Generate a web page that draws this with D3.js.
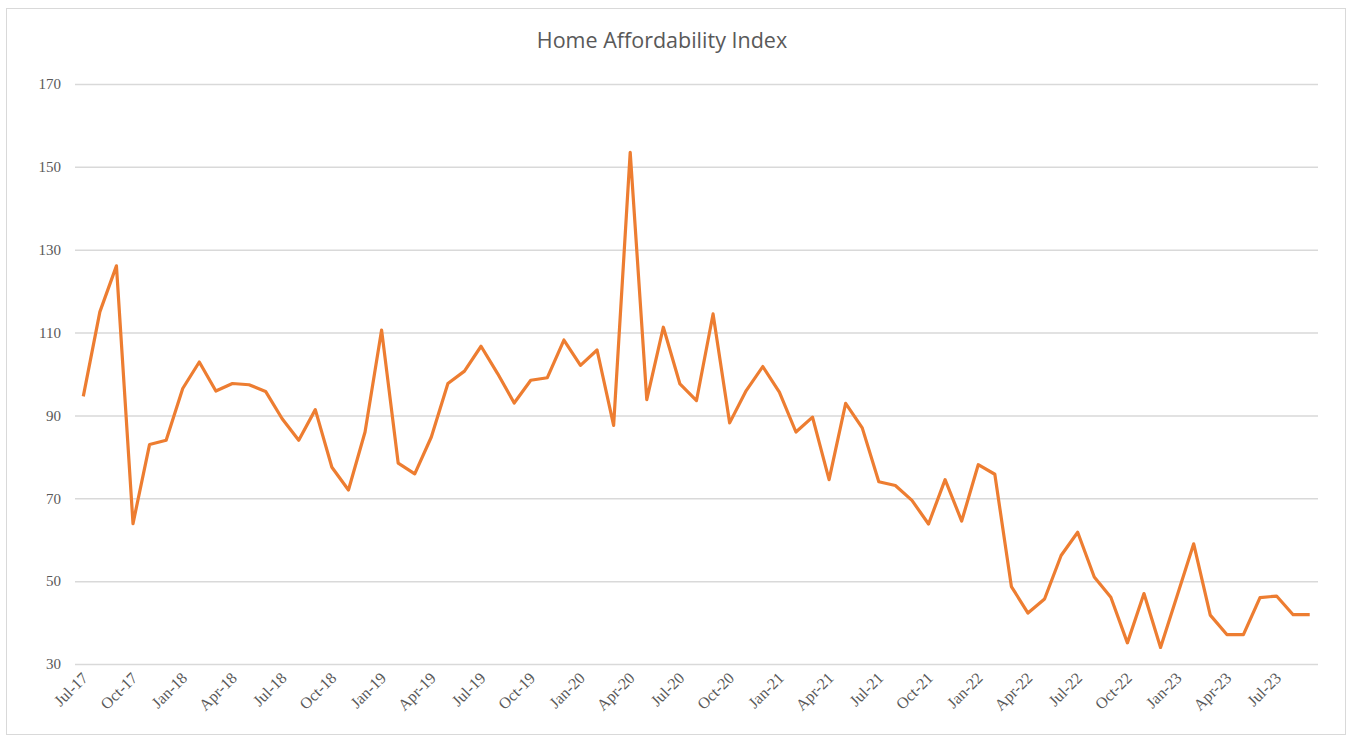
<!DOCTYPE html>
<html>
<head>
<meta charset="utf-8">
<script src="https://cdn.jsdelivr.net/npm/d3@7"></script>
<style>
  body { margin: 0; background: #fff; }
  .tick text { fill: #595959; font-family: "Liberation Serif", serif; font-size: 15px; }
</style>
</head>
<body>
<div id="chart"></div>
<script>
// monthly, Jul-17 .. Sep-23
var monthNames = ["Jan","Feb","Mar","Apr","May","Jun","Jul","Aug","Sep","Oct","Nov","Dec"];
var months = [];
for (var i = 0; i < 75; i++) {
  var m = (6 + i) % 12, yr = 17 + Math.floor((6 + i) / 12);
  months.push(monthNames[m] + "-" + yr);
}

var values = [
  94.6, 115, 126.1, 63.9, 83, 84,            // Jul-17 .. Dec-17
  96.5, 102.9, 95.9, 97.7, 97.4, 95.8,        // 2018 H1
  89.2, 84, 91.4, 77.5, 72, 86,              // 2018 H2
  110.6, 78.5, 75.9, 84.8, 97.7, 100.7,      // 2019 H1
  106.7, 100.1, 93, 98.5, 99.1, 108.2,       // 2019 H2
  102.1, 105.8, 87.6, 153.5, 93.8, 111.3,    // 2020 H1
  97.6, 93.6, 114.5, 88.2, 96, 101.8,        // 2020 H2
  95.6, 86, 89.6, 74.5, 92.9, 87,            // 2021 H1
  74, 73.1, 69.5, 63.8, 74.5, 64.5,          // 2021 H2
  78.1, 75.8, 48.7, 42.3, 45.7, 56.2,        // 2022 H1
  61.8, 51, 46.1, 35.1, 47, 34,              // 2022 H2
  46.5, 59, 41.8, 37.1, 37.1, 46,            // 2023 H1
  46.4, 41.9, 41.9                           // Jul-23 .. Sep-23
];

var yTicks = [30, 50, 70, 90, 110, 130, 150, 170];

var W = 1351, H = 737;
var margin = {top: 84, right: 33, bottom: 73, left: 75},
  width = W - margin.left - margin.right,
  height = H - margin.top - margin.bottom;

var svg = d3.select("#chart").append("svg")
  .attr("width", W)
  .attr("height", H);

// chart frame
svg.append("rect")
  .attr("x", 6.5).attr("y", 8.5)
  .attr("width", 1339).attr("height", 726)
  .attr("fill", "#fff")
  .attr("stroke", "#d9d9d9");

svg.append("text")
  .attr("x", 662).attr("y", 48)
  .attr("text-anchor", "middle")
  .attr("fill", "#595959")
  .style("font-family", "'Open Sans', sans-serif")
  .style("font-size", "21.5px")
  .text("Home Affordability Index");

var g = svg.append("g")
  .attr("transform", "translate(" + margin.left + "," + margin.top + ")");

var x = d3.scalePoint().domain(months).range([0, width]).padding(0.5);
var y = d3.scaleLinear().domain([30, 170]).range([height, 0]);

// gridlines + y labels
var yAxis = g.append("g")
  .call(d3.axisLeft(y).tickValues(yTicks).tickSize(-width).tickPadding(14).tickFormat(d3.format("d")));
yAxis.select(".domain").remove();
yAxis.selectAll(".tick line").attr("stroke", "#d9d9d9").attr("stroke-width", 1.5);

// x labels every 3 months, rotated
var xAxis = g.append("g")
  .attr("transform", "translate(0," + height + ")")
  .call(d3.axisBottom(x).tickValues(months.filter(function(d, i) { return i % 3 === 0; })).tickSize(0).tickPadding(0));
xAxis.select(".domain").remove();
xAxis.selectAll(".tick text")
  .attr("text-anchor", "end")
  .attr("dy", null)
  .attr("x", 0).attr("y", 0)
  .style("font-size", "16px")
  .attr("transform", "translate(5,15) rotate(-45)");

var line = d3.line()
  .x(function(d, i) { return x(months[i]); })
  .y(function(d) { return y(d); });

g.append("path")
  .datum(values)
  .attr("fill", "none")
  .attr("stroke", "#ED7D31")
  .attr("stroke-width", 3.2)
  .attr("stroke-linejoin", "round")
  .attr("d", line);
</script>
</body>
</html>
